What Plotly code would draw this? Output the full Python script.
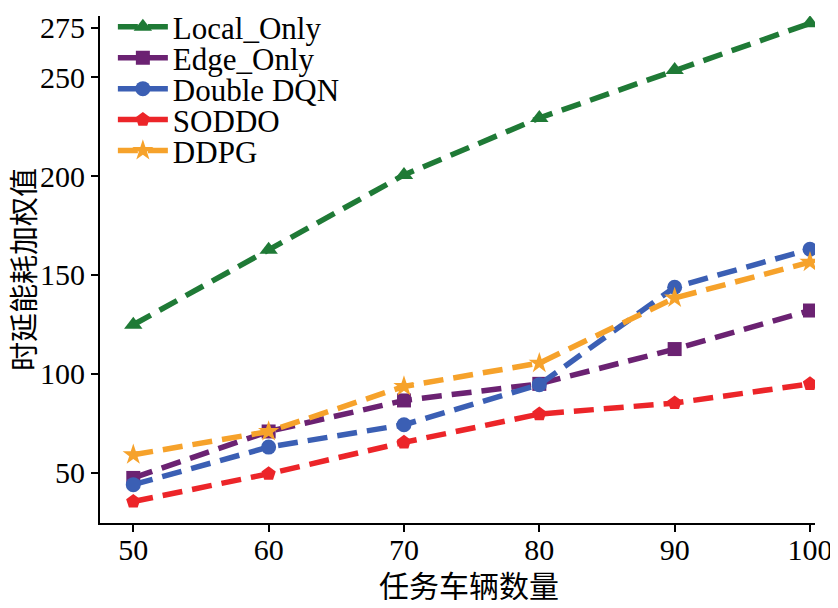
import plotly.graph_objects as go

# task vehicles vs. weighted delay-energy cost
vehicles = [50, 60, 70, 80, 90, 100]
local_only = [124.8, 162.7, 200.6, 229.4, 253.7, 277.3]
edge_only = [47.3, 70.8, 86.5, 94.9, 112.5, 132.0]
double_dqn = [43.9, 62.9, 74.2, 94.5, 143.8, 163.0]
soddo = [35.4, 49.4, 65.3, 79.6, 85.2, 94.9]
ddpg = [59.0, 70.8, 93.6, 105.4, 138.3, 156.5]

y_ticks = [50, 100, 150, 200, 250, 275]
x_ticks = [50, 60, 70, 80, 90, 100]

series = [
    ("Local_Only", local_only, "#1f7a36", "triangle-up", 16),
    ("Edge_Only", edge_only, "#6b2272", "square", 14),
    ("Double DQN", double_dqn, "#3b5fb4", "circle", 15),
    ("SODDO", soddo, "#ec2529", "pentagon", 15),
    ("DDPG", ddpg, "#f6a22b", "star", 16),
]

serif = "Liberation Serif, Times New Roman, Noto Sans CJK SC, serif"
cjk = "Noto Sans CJK SC, serif"

# one legend box per entry so the rows sit as tight as in the picture
legend_y = [0.978, 0.917, 0.856, 0.795, 0.734]

fig = go.Figure()
legends = {}
for i, (name, vals, color, sym, size) in enumerate(series):
    key = "legend" if i == 0 else f"legend{i + 1}"
    fig.add_trace(go.Scatter(
        x=vehicles, y=vals, name=name, mode="lines+markers",
        line=dict(color=color, width=5.5, dash="20px,10px"),
        marker=dict(symbol=sym, size=size, color=color),
        legend=key,
    ))
    legends[key] = dict(
        x=0.018, y=legend_y[i], xanchor="left", yanchor="middle",
        bgcolor="rgba(0,0,0,0)", borderwidth=0,
        font=dict(family=serif, size=31, color="black"),
        itemwidth=50,
    )

fig.update_layout(
    width=822, height=592,
    margin=dict(l=92, r=15, t=8, b=77, autoexpand=False),
    paper_bgcolor="white", plot_bgcolor="white",
    font=dict(family=serif, size=30, color="black"),
    showlegend=True,
    annotations=[
        dict(text="任务车辆数量", xref="paper", yref="paper", x=0.516, y=-0.12,
             xanchor="center", yanchor="middle", showarrow=False,
             font=dict(family=cjk, size=30, color="black")),
        dict(text="时延能耗加权值", xref="paper", yref="paper", x=-0.109, y=0.499,
             xanchor="center", yanchor="middle", showarrow=False, textangle=-90,
             font=dict(family=cjk, size=29, color="black")),
    ],
    **legends,
)

fig.update_xaxes(
    range=[47.54, 100.37], tickvals=x_ticks, automargin=False,
    ticklabeloverflow="allow", ticklabelstandoff=-8,
    showline=True, linecolor="black", linewidth=2,
    ticks="outside", ticklen=7, tickwidth=2, tickcolor="black",
    showgrid=False, zeroline=False, mirror=False,
    tickfont=dict(family=serif, size=30),
)
fig.update_yaxes(
    range=[24.5, 281], tickvals=y_ticks, automargin=False,
    ticklabeloverflow="allow",
    showline=True, linecolor="black", linewidth=2,
    ticks="outside", ticklen=7, tickwidth=2, tickcolor="black",
    showgrid=False, zeroline=False, mirror=False,
    tickfont=dict(family=serif, size=30),
)

fig.write_html("out.html")
